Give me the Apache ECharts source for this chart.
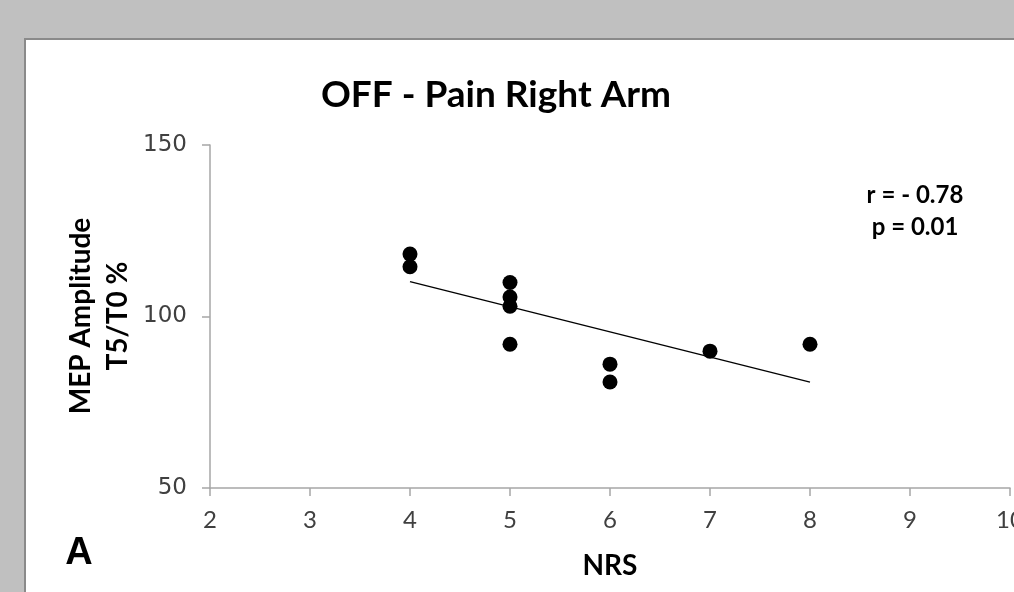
<!DOCTYPE html>
<html>
<head>
<meta charset="utf-8">
<style>
  html, body { margin: 0; padding: 0; background: #c0c0c0; }
  #chart { width: 1014px; height: 592px; }
</style>
<script src="https://cdn.jsdelivr.net/npm/echarts@6/dist/echarts.min.js"></script>
</head>
<body>
<div id="chart"></div>
<script>
// NRS score vs MEP amplitude ratio (T5/T0 %)
const nrsValues = [4, 4, 5, 5, 5, 5, 6, 6, 7, 8];
const mepValues = [118.2, 114.5, 109.9, 105.7, 103.0, 91.9, 86.1, 80.9, 89.9, 91.9];
// linear trend line end points
const trendX = [4, 8];
const trendY = [110.2, 80.9];
const xTicks = [2, 3, 4, 5, 6, 7, 8, 9, 10];
const yTicks = [50, 100, 150];
const statLines = ['r = - 0.78', 'p = 0.01'];

const points = nrsValues.map((x, i) => [x, mepValues[i]]);
const trend = trendX.map((x, i) => [x, trendY[i]]);

const chart = echarts.init(document.getElementById('chart'));
chart.setOption({
  backgroundColor: '#c0c0c0',
  animation: false,
  title: {
    text: 'OFF - Pain Right Arm',
    left: 491,
    top: 72,
    textAlign: 'center',
    textStyle: { fontFamily: 'Lato', fontWeight: 'bold', fontSize: 37, color: '#000' }
  },
  graphic: [
    {
      type: 'rect', z: -10, silent: true,
      shape: { x: 25, y: 39, width: 1100, height: 700 },
      style: { fill: '#ffffff', stroke: '#8a8a8a', lineWidth: 2 }
    },
    {
      type: 'text', silent: true,
      x: 99, y: 316, rotation: Math.PI / 2,
      style: {
        text: 'MEP Amplitude\nT5/T0 %',
        font: 'bold 28px Lato',
        fill: '#000', align: 'center', verticalAlign: 'middle', lineHeight: 37
      }
    },
    {
      type: 'text', silent: true,
      x: 610, y: 566,
      style: { text: 'NRS', font: 'bold 28px Lato', fill: '#000', align: 'center', verticalAlign: 'middle' }
    },
    {
      type: 'text', silent: true,
      x: 79, y: 554,
      style: { text: 'A', font: 'bold 38px "Liberation Sans"', fill: '#000', align: 'center', verticalAlign: 'middle' }
    },
    {
      type: 'text', silent: true,
      x: 915, y: 211,
      style: {
        text: statLines.join('\n'),
        font: 'bold 24px Lato', fill: '#000', align: 'center', verticalAlign: 'middle', lineHeight: 32
      }
    }
  ],
  grid: { left: 210, top: 145, right: 4, bottom: 104, containLabel: false, outerBoundsMode: 'none' },
  xAxis: {
    type: 'value',
    min: xTicks[0], max: xTicks[xTicks.length - 1], interval: 1,
    splitLine: { show: false },
    axisLine: { show: true, lineStyle: { color: '#a6a6a6', width: 1.5 } },
    axisTick: { show: true, length: 8, lineStyle: { color: '#a6a6a6', width: 1.5 } },
    axisLabel: { margin: 20, fontSize: 24, color: '#404040', fontFamily: 'Lato', hideOverlap: false }
  },
  yAxis: {
    type: 'value',
    min: yTicks[0], max: yTicks[yTicks.length - 1], interval: 50,
    splitLine: { show: false },
    axisLine: { show: true, lineStyle: { color: '#a6a6a6', width: 1.5 } },
    axisTick: { show: true, length: 8, lineStyle: { color: '#a6a6a6', width: 1.5 } },
    axisLabel: { margin: 23, fontSize: 23, color: '#404040', fontFamily: 'DejaVu Sans' }
  },
  series: [
    {
      type: 'line',
      data: trend,
      showSymbol: false,
      lineStyle: { color: '#000', width: 1.3 },
      z: 2
    },
    {
      type: 'scatter',
      data: points,
      symbol: 'circle',
      symbolSize: 15,
      itemStyle: { color: '#000', opacity: 1 },
      z: 3
    }
  ]
});
</script>
</body>
</html>
